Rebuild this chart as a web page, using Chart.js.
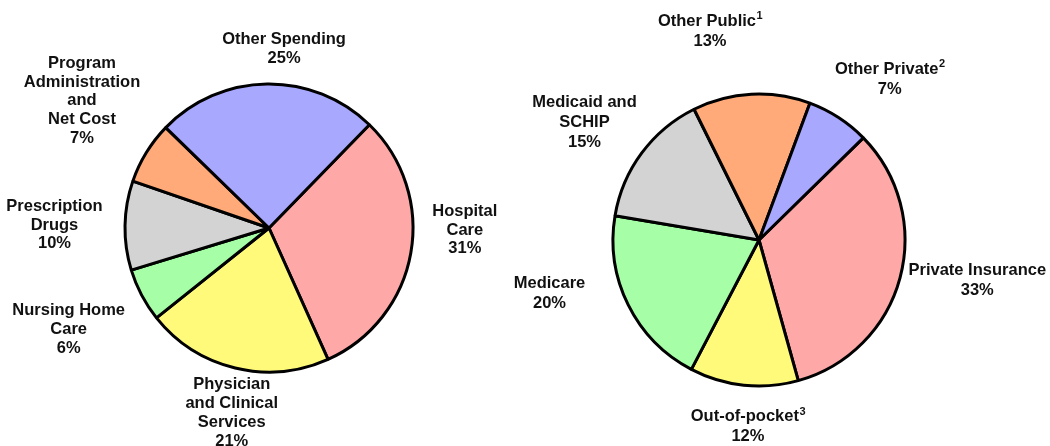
<!DOCTYPE html>
<html>
<head>
<meta charset="utf-8">
<script src="https://cdn.jsdelivr.net/npm/chart.js@4.4.0/dist/chart.umd.min.js"></script>
<style>
  html, body { margin: 0; padding: 0; background: #fff; }
  body { width: 1050px; height: 446px; position: relative; overflow: hidden; }
  .layer { position: absolute; left: 0; top: 0; width: 1050px; height: 446px; }
</style>
</head>
<body>
<div class="layer"><canvas id="spendChart"></canvas></div>
<div class="layer"><canvas id="sourceChart"></canvas></div>
<script>
// Where the money goes (left pie), clockwise from the Hospital Care slice
const spendCategories = [
  ['Hospital', 'Care'],
  ['Physician', 'and Clinical', 'Services'],
  ['Nursing Home', 'Care'],
  ['Prescription', 'Drugs'],
  ['Program', 'Administration', 'and', 'Net Cost'],
  ['Other Spending']
];
const spendShares = [31, 21, 6, 10, 7, 25];

// Where the money comes from (right pie), clockwise from Private Insurance
const sourceCategories = [
  ['Private Insurance'],
  ['Out-of-pocket\u00B3'],
  ['Medicare'],
  ['Medicaid and', 'SCHIP'],
  ['Other Public\u00B9'],
  ['Other Private\u00B2']
];
const sourceShares = [33, 12, 20, 15, 13, 7];

const sliceColors = ['#FFA8A8', '#FFFA7A', '#A6FFA6', '#D3D3D3', '#FFAA78', '#A8A8FF'];

// label placement: [angle clockwise from top in degrees, distance in radii]
const spendLabelSpots = [[90.6, 1.36], [191.4, 1.31], [243.1, 1.56], [270.8, 1.49], [304.2, 1.57], [4.8, 1.25]];
const sourceLabelSpots = [[100.4, 1.52], [183.4, 1.28], [255.8, 1.48], [303.9, 1.44], [346.8, 1.47], [39.1, 1.42]];

const SUPS = { '\u00B9': '1', '\u00B2': '2', '\u00B3': '3' };
const MAIN_FONT = 'bold 16.5px "Liberation Sans", Arial, sans-serif';
const SUP_FONT = 'bold 11px "Liberation Sans", Arial, sans-serif';

// draws one line centred on x, with a trailing footnote mark raised
function drawLine(ctx, t, x, y) {
  const last = t.slice(-1);
  if (!SUPS[last]) {
    ctx.font = MAIN_FONT;
    ctx.textAlign = 'center';
    ctx.fillText(t, x, y);
    return;
  }
  const base = t.slice(0, -1);
  ctx.font = MAIN_FONT;
  const w1 = ctx.measureText(base).width;
  ctx.font = SUP_FONT;
  const w2 = ctx.measureText(SUPS[last]).width;
  const left = x - (w1 + w2) / 2;
  ctx.textAlign = 'left';
  ctx.font = MAIN_FONT;
  ctx.fillText(base, left, y);
  ctx.font = SUP_FONT;
  ctx.fillText(SUPS[last], left + w1 + 0.5, y - 5);
}

const outsideLabels = {
  id: 'outsideLabels',
  afterDatasetsDraw(chart, args, opts) {
    const ctx = chart.ctx;
    const arc = chart.getDatasetMeta(0).data[0];
    const cx = arc.x, cy = arc.y, r = arc.outerRadius;
    ctx.save();
    ctx.fillStyle = '#111';
    ctx.textBaseline = 'middle';
    chart.data.labels.forEach((lines, i) => {
      const [deg, k] = opts.spots[i];
      const a = deg * Math.PI / 180;
      const x = cx + Math.sin(a) * r * k;
      const y = cy - Math.cos(a) * r * k;
      const text = lines.concat(chart.data.datasets[0].data[i] + '%');
      const top = y - (text.length - 1) * opts.lineHeight / 2;
      text.forEach((t, j) => drawLine(ctx, t, x, top + j * opts.lineHeight));
    });
    ctx.restore();
  }
};

function makePie(id, labels, shares, rotation, radius, padding, spots, lineHeight) {
  return new Chart(document.getElementById(id), {
    type: 'pie',
    data: {
      labels: labels,
      datasets: [{
        data: shares,
        backgroundColor: sliceColors,
        borderColor: '#000',
        borderWidth: 3
      }]
    },
    options: {
      responsive: true,
      maintainAspectRatio: false,
      animation: false,
      rotation: rotation,
      radius: radius,
      layout: { padding: padding },
      plugins: {
        legend: { display: false },
        tooltip: { enabled: false },
        outsideLabels: { spots: spots, lineHeight: lineHeight }
      }
    },
    plugins: [outsideLabels]
  });
}

makePie('spendChart', spendCategories, spendShares, 44.2, 144,
  { left: 0, right: 512, top: 10, bottom: 0 }, spendLabelSpots, 18.7);
makePie('sourceChart', sourceCategories, sourceShares, 45.6, 146,
  { left: 509, right: 41, top: 34, bottom: 0 }, sourceLabelSpots, 20);
</script>
</body>
</html>
